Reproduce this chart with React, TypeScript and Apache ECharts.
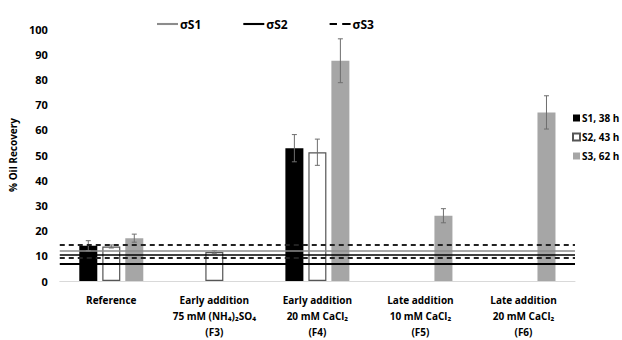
import React, { useEffect, useRef } from "react";
import * as echarts from "echarts";

const categories = [
  "Reference",
  "Early addition\n75 mM (NH₄)₂SO₄\n(F3)",
  "Early addition\n20 mM CaCl₂\n(F4)",
  "Late addition\n10 mM CaCl₂\n(F5)",
  "Late addition\n20 mM CaCl₂\n(F6)",
];
const s1Values = [14.0, null, 52.7, null, null];
const s1Errors = [2.0, null, 5.4, null, null];
const s2Values = [13.7, 11.5, 51.1, null, null];
const s2Errors = [0.6, 0.5, 5.2, null, null];
const s3Values = [17.0, null, 87.4, 25.9, 66.9];
const s3Errors = [1.6, null, 8.7, 2.8, 6.6];
const sigmaS1Lines = [12.0];
const sigmaS2Lines = [10.5, 6.7];
const sigmaS3Lines = [14.2, 9.2];
const yTicks = { min: 0, max: 100, interval: 10 };

const FONT = "'Open Sans', 'Noto Sans', sans-serif";
const BAR_W = 18;
const BAR_STEP = 23;

function errorSeries(name: string, values: (number | null)[], errors: (number | null)[], offset: number) {
  const data: number[][] = [];
  values.forEach((v, i) => {
    const e = errors[i];
    if (v != null && e != null) data.push([i, v, e]);
  });
  return {
    type: "custom",
    name: name + "_err",
    z: 4,
    silent: true,
    data,
    encode: { x: 0, y: 1 },
    renderItem: (params: any, api: any) => {
      const i = api.value(0);
      const v = api.value(1);
      const e = api.value(2);
      const top = api.coord([i, v + e]);
      const bot = api.coord([i, v - e]);
      const x = top[0] + offset;
      const style = { stroke: "#6e6e6e", lineWidth: 1 };
      return {
        type: "group",
        children: [
          { type: "line", shape: { x1: x, y1: top[1], x2: x, y2: bot[1] }, style },
          { type: "line", shape: { x1: x - 2.5, y1: top[1], x2: x + 2.5, y2: top[1] }, style },
          { type: "line", shape: { x1: x - 2.5, y1: bot[1], x2: x + 2.5, y2: bot[1] }, style },
        ],
      };
    },
  };
}

function sigmaSeries(name: string, values: number[], color: string, widths: number[], type: any) {
  return {
    type: "line",
    name,
    data: [],
    symbol: "none",
    z: 6,
    lineStyle: { color, width: 2, type },
    itemStyle: { color },
    markLine: {
      silent: true,
      symbol: "none",
      label: { show: false },
      z: 6,
      data: values.map((v, k) => ({
        yAxis: v,
        lineStyle: { color, width: widths[k], type },
      })),
    },
  };
}

const SOLID_ICON = "path://M0,0H20V2H0Z";
const DASH_ICON = "path://M0,0H7V2H0Z M12,0H20V2H12Z";

export default function App() {
  const ref = useRef<HTMLDivElement>(null);
  useEffect(() => {
    if (!ref.current) return;
    const chart = echarts.init(ref.current, null, { renderer: "svg" });
    chart.setOption({
      animation: false,
      backgroundColor: "#ffffff",
      textStyle: { fontFamily: FONT },
      grid: { left: 57, right: 47, top: 29, bottom: 59, containLabel: false },
      legend: [
        {
          data: [
            { name: "σS1", icon: SOLID_ICON, itemStyle: { color: "#8c8c8c" } },
            { name: "σS2", icon: SOLID_ICON, itemStyle: { color: "#000000" } },
            { name: "σS3", icon: DASH_ICON, itemStyle: { color: "#000000" } },
          ],
          left: 152,
          top: 13,
          itemWidth: 21,
          itemHeight: 2.5,
          itemGap: 42,
          textStyle: { fontFamily: FONT, fontWeight: "bold", fontSize: 12, color: "#000", padding: [0, 0, 0, -3] },
        },
        {
          data: ["S1, 38 h", "S2, 43 h", "S3, 62 h"],
          orient: "vertical",
          left: 567,
          top: 106,
          icon: "rect",
          itemWidth: 7,
          itemHeight: 7,
          itemGap: 5,
          textStyle: { fontFamily: FONT, fontWeight: "bold", fontSize: 10, color: "#000", lineHeight: 14, padding: [0, 0, 0, -3] },
        },
      ],
      xAxis: {
        type: "category",
        data: categories,
        axisLine: { show: true, lineStyle: { color: "#d9d9d9", width: 1 } },
        axisTick: { show: false },
        axisLabel: {
          interval: 0,
          margin: 11,
          fontFamily: FONT,
          fontWeight: "bold",
          fontSize: 10,
          lineHeight: 16,
          color: "#000",
        },
      },
      yAxis: {
        type: "value",
        min: yTicks.min,
        max: yTicks.max,
        interval: yTicks.interval,
        name: "% Oil Recovery",
        nameLocation: "middle",
        nameGap: 37,
        nameTextStyle: { fontFamily: FONT, fontWeight: "bold", fontSize: 10, color: "#000" },
        axisLine: { show: false },
        axisTick: { show: false },
        splitLine: { show: false },
        axisLabel: { fontFamily: FONT, fontWeight: "bold", fontSize: 11, color: "#000", margin: 12 },
      },
      series: [
        {
          type: "bar",
          name: "S1, 38 h",
          data: s1Values,
          barWidth: BAR_W,
          barGap: ((BAR_STEP - BAR_W) / BAR_W) * 100 + "%",
          itemStyle: { color: "#000000" },
          z: 2,
        },
        {
          type: "bar",
          name: "S2, 43 h",
          data: s2Values,
          barWidth: BAR_W,
          barGap: ((BAR_STEP - BAR_W) / BAR_W) * 100 + "%",
          itemStyle: { color: "#ffffff", borderColor: "#555555", borderWidth: 1.2 },
          z: 2,
        },
        {
          type: "bar",
          name: "S3, 62 h",
          data: s3Values,
          barWidth: BAR_W,
          barGap: ((BAR_STEP - BAR_W) / BAR_W) * 100 + "%",
          itemStyle: { color: "#a6a6a6" },
          z: 2,
        },
        errorSeries("S1", s1Values, s1Errors, -BAR_STEP),
        errorSeries("S2", s2Values, s2Errors, 0),
        errorSeries("S3", s3Values, s3Errors, BAR_STEP),
        sigmaSeries("σS1", sigmaS1Lines, "#8c8c8c", [1.5], "solid"),
        sigmaSeries("σS2", sigmaS2Lines, "#000000", [1.5, 2.2], "solid"),
        sigmaSeries("σS3", sigmaS3Lines, "#222222", [2, 2], [5, 4]),
      ],
    });
    return () => chart.dispose();
  }, []);
  return (
    <div
      ref={ref}
      style={{ position: "fixed", left: 0, top: 0, width: 622, height: 340 }}
    />
  );
}
